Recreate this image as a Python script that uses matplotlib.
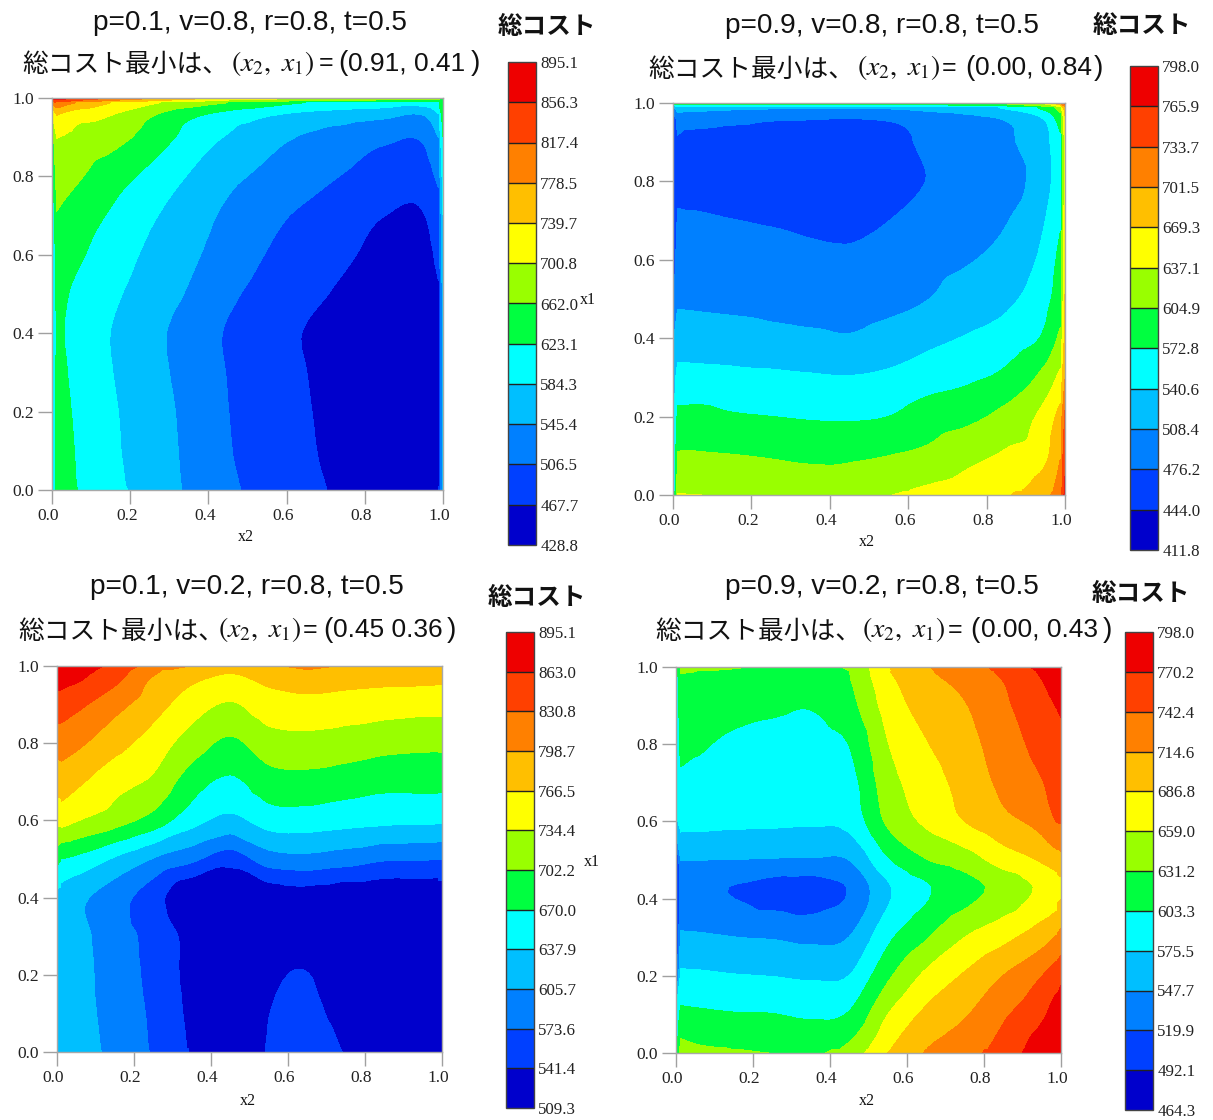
import numpy as np
import matplotlib
matplotlib.use("Agg")
import matplotlib.pyplot as plt
import matplotlib.tri as mtri
from matplotlib.colors import ListedColormap, BoundaryNorm
from matplotlib.transforms import ScaledTranslation

W, H = 1213, 1120

plt.rcParams['mathtext.fontset'] = 'stix'

band_colors = ['#0000cc', '#0040ff', '#0080ff', '#00bfff', '#00ffff', '#00ff40',
               '#99ff00', '#ffff00', '#ffbf00', '#ff8000', '#ff4000', '#ee0000']

# sample positions
x2_vals = [0, .012, .06, .15, .25, .35, .45, .55, .65, .75, .85, .95, .988, 1]
x1_vals = [0, .012, .1, .2, .3, .4, .5, .6, .7, .8, .9, .96, .988, 1]
x1_vals_d = [0, .012, .1, .2, .3, .43, .5, .6, .7, .8, .9, .96, .988, 1]

levels_a = [428.8, 467.7, 506.5, 545.4, 584.3, 623.1, 662.0, 700.8, 739.7, 778.5, 817.4, 856.3, 895.1]
levels_b = [411.8, 444.0, 476.2, 508.4, 540.6, 572.8, 604.9, 637.1, 669.3, 701.5, 733.7, 765.9, 798.0]
levels_c = [509.3, 541.4, 573.6, 605.7, 637.9, 670.0, 702.2, 734.4, 766.5, 798.7, 830.8, 863.0, 895.1]
levels_d = [464.3, 492.1, 519.9, 547.7, 575.5, 603.3, 631.2, 659.0, 686.8, 714.6, 742.4, 770.2, 798.0]

# total cost, rows go up in x1, columns go right in x2
cost_a = [
    [565, 647, 625, 596, 569, 540, 513, 493, 476, 460, 448, 443, 460, 565],
    [565, 646, 624, 595, 568, 540, 513, 493, 476, 460, 448, 443, 460, 565],
    [565, 643, 622, 592, 565, 538, 509, 491, 472, 458, 447, 442, 460, 565],
    [565, 639, 619, 590, 563, 536, 507, 489, 470, 457, 446, 441, 460, 565],
    [565, 635, 615, 586, 559, 532, 505, 485, 468, 455, 445, 441, 460, 565],
    [565, 631, 612, 584, 557, 530, 503, 483, 466, 454, 445, 441, 460, 565],
    [565, 635, 617, 592, 567, 542, 514, 493, 476, 462, 450, 445, 464, 565],
    [570, 647, 631, 604, 577, 553, 528, 505, 487, 472, 458, 452, 476, 570],
    [584, 660, 645, 619, 590, 564, 538, 517, 499, 483, 468, 466, 491, 584],
    [604, 680, 668, 641, 613, 582, 555, 537, 522, 504, 489, 487, 514, 604],
    [640, 702, 693, 678, 647, 611, 581, 560, 541, 530, 515, 513, 546, 623],
    [700, 745, 722, 705, 670, 636, 612, 592, 577, 568, 560, 550, 584, 643],
    [780, 817, 779, 740, 709, 685, 662, 643, 623, 615, 608, 604, 623, 662],
    [895, 880, 860, 820, 790, 760, 730, 720, 710, 705, 700, 700, 680, 662],
]

cost_b = [
    [530, 640, 638, 632, 625, 622, 628, 636, 648, 657, 666, 692, 720, 780],
    [530, 630, 630, 626, 621, 618, 623, 632, 642, 651, 662, 688, 715, 770],
    [530, 608, 608, 606, 603, 600, 600, 605, 612, 628, 642, 663, 700, 760],
    [530, 581, 582, 576, 573, 570, 569, 573, 588, 597, 615, 650, 680, 740],
    [525, 552, 551, 549, 547, 544, 542, 547, 559, 567, 581, 617, 645, 700],
    [505, 524, 523, 521, 517, 514, 511, 519, 532, 543, 555, 580, 612, 680],
    [470, 504, 503, 501, 499, 497, 496, 500, 508, 523, 534, 564, 590, 670],
    [455, 493, 492, 489, 487, 484, 482, 488, 498, 506, 520, 552, 582, 665],
    [440, 482, 481, 477, 474, 470, 468, 476, 489, 497, 507, 541, 570, 660],
    [432, 465, 462, 460, 459, 458, 458, 462, 477, 486, 499, 528, 565, 650],
    [432, 474, 470, 468, 465, 463, 463, 466, 482, 493, 504, 532, 568, 650],
    [450, 490, 488, 485, 480, 478, 476, 480, 487, 498, 512, 545, 590, 660],
    [500, 525, 520, 515, 512, 510, 510, 512, 520, 530, 545, 585, 620, 690],
    [590, 590, 590, 592, 595, 598, 600, 603, 606, 610, 620, 650, 700, 760],
]

cost_c = [
    [625, 630, 620, 597, 571, 539, 525, 543, 556, 540, 525, 518, 515, 515],
    [625, 629, 619, 596, 570, 538, 525, 543, 555, 539, 525, 518, 515, 515],
    [625, 628, 617, 593, 568, 535, 522, 541, 549, 530, 522, 516, 513, 513],
    [625, 627, 616, 590, 565, 532, 520, 537, 542, 525, 520, 514, 512, 512],
    [625, 627, 614, 588, 563, 531, 520, 530, 530, 522, 518, 513, 512, 512],
    [625, 625, 612, 588, 555, 510, 512, 520, 525, 515, 515, 515, 515, 515],
    [680, 670, 661, 634, 604, 581, 555, 590, 596, 588, 577, 576, 574, 574],
    [745, 746, 734, 716, 689, 650, 629, 652, 654, 649, 645, 644, 643, 643],
    [780, 782, 770, 745, 728, 685, 664, 688, 691, 685, 679, 679, 680, 680],
    [812, 813, 803, 778, 752, 719, 696, 720, 724, 720, 713, 710, 709, 709],
    [848, 848, 836, 810, 780, 750, 731, 753, 756, 752, 749, 746, 746, 746],
    [872, 872, 863, 836, 793, 770, 757, 772, 781, 776, 772, 771, 770, 770],
    [888, 885, 873, 848, 805, 784, 770, 785, 797, 790, 783, 782, 781, 781],
    [895, 893, 880, 855, 815, 798, 775, 795, 805, 797, 788, 786, 785, 785],
]

cost_d = [
    [590, 640, 636, 633, 631, 626, 640, 687, 717, 733, 754, 787, 796, 797],
    [590, 640, 634, 631, 627, 622, 637, 683, 714, 730, 752, 785, 795, 796],
    [585, 610, 608, 605, 604, 600, 606, 659, 693, 712, 738, 765, 783, 788],
    [500, 581, 580, 577, 575, 572, 576, 626, 665, 690, 715, 742, 757, 764],
    [475, 552, 551, 548, 546, 542, 548, 597, 629, 659, 679, 703, 717, 723],
    [466, 530, 526, 519, 510, 506, 522, 572, 600, 620, 641, 664, 672, 675],
    [475, 548, 548, 547, 546, 545, 548, 600, 630, 645, 671, 690, 702, 706],
    [570, 584, 583, 581, 580, 579, 584, 636, 664, 687, 707, 725, 743, 745],
    [580, 597, 596, 593, 590, 589, 593, 647, 674, 696, 721, 741, 753, 754],
    [580, 612, 606, 599, 596, 594, 604, 658, 685, 704, 729, 752, 762, 764],
    [580, 618, 615, 612, 608, 605, 622, 670, 698, 713, 737, 762, 771, 773],
    [580, 628, 626, 623, 620, 618, 629, 678, 706, 721, 742, 769, 780, 782],
    [585, 632, 631, 630, 628, 625, 631, 684, 711, 726, 748, 774, 787, 790],
    [590, 640, 636, 632, 630, 628, 632, 685, 713, 728, 751, 778, 790, 795],
]

title_top = ['p=0.1, v=0.8, r=0.8, t=0.5', 'p=0.9, v=0.8, r=0.8, t=0.5',
             'p=0.1, v=0.2, r=0.8, t=0.5', 'p=0.9, v=0.2, r=0.8, t=0.5']
title_min = ['0.91, 0.41', '0.00, 0.84', '0.45 0.36', '0.00, 0.43']
tick_vals = [0.0, 0.2, 0.4, 0.6, 0.8, 1.0]

# left, right, top, bottom in pixels
plot_box = [(52, 443, 98, 490), (673, 1065, 103, 495), (57, 442, 666, 1052), (676, 1061, 667, 1053)]
cbar_box = [(508, 536, 62, 545), (1130, 1158, 66, 550), (506, 534, 632, 1108), (1125, 1153, 632, 1110)]
title_pos = [(250, 23), (882, 26), (247, 587), (882, 587)]
line2_pos = [(22, 65), (648, 70), (18, 632), (655, 632)]
# offsets along the second title line: math, =, (, digits, )
line2_off = [(209, 297, 316, 326, 449), (209, 294, 317, 327, 446),
             (200, 285, 305, 315, 429), (207, 293, 315, 326, 448)]
soukost_pos = [(547, 27), (1142, 26), (537, 598), (1141, 594)]
x2_pos = [(246, 537), (867, 542), (248, 1101), (867, 1101)]
x1_pos = [(588, 300), None, (592, 862), None]

fig = plt.figure(figsize=(W / 100, H / 100), dpi=100)


def make_axes(box):
    l, r, t, b = box
    return fig.add_axes([l / W, 1 - b / H, (r - l) / W, (b - t) / H])


def put(xy, s, **kw):
    return fig.text(xy[0] / W, 1 - xy[1] / H, s, color='#111111', va='center', **kw)


serif = 'Liberation Serif'
sans = 'Liberation Sans'
cjk = 'Noto Sans CJK JP'

all_costs = [cost_a, cost_b, cost_c, cost_d]
all_levels = [levels_a, levels_b, levels_c, levels_d]
all_x1 = [x1_vals, x1_vals, x1_vals, x1_vals_d]

for i in range(4):
    ax = make_axes(plot_box[i])
    cmap = ListedColormap(band_colors)
    levels = all_levels[i]
    norm = BoundaryNorm(levels, cmap.N)
    z = np.array(all_costs[i], dtype=float)

    # full grid first, so the thin edge layers show
    cs = ax.contourf(x2_vals, all_x1[i], z, levels=levels, cmap=cmap, norm=norm)

    # inner part again through matplotlib's cubic refiner, so the bands come out smooth
    gx, gy = np.meshgrid(x2_vals[1:-1], all_x1[i][1:-1])
    tri = mtri.Triangulation(gx.ravel(), gy.ravel())
    interp = mtri.CubicTriInterpolator(tri, z[1:-1, 1:-1].ravel(), kind='geom')
    fine_tri, fine_z = mtri.UniformTriRefiner(tri).refine_field(z[1:-1, 1:-1].ravel(), triinterpolator=interp, subdiv=3)
    fine_z = np.clip(fine_z, levels[0] + 0.1, levels[-1] - 0.1)
    ax.tricontourf(fine_tri, fine_z, levels=levels, cmap=cmap, norm=norm)

    ax.set_xlim(0, 1)
    ax.set_ylim(0, 1)
    ax.set_xticks(tick_vals)
    ax.set_yticks(tick_vals)
    ax.set_xticklabels(['%.1f' % v for v in tick_vals], family=serif, fontsize=12.5, color='#222222')
    ax.set_yticklabels(['%.1f' % v for v in tick_vals], family=serif, fontsize=12.5, color='#222222')
    ax.tick_params(length=10, width=1, color='#a0a0a0', pad=3)
    shift = ScaledTranslation(-3.5 / 100, 0, fig.dpi_scale_trans)
    for lab in ax.get_xticklabels():
        lab.set_transform(lab.get_transform() + shift)
    for s in ax.spines.values():
        s.set_color('#a8a8a8')
        s.set_linewidth(1)

    cax = make_axes(cbar_box[i])
    cb = fig.colorbar(cs, cax=cax, ticks=levels, drawedges=True)
    cb.ax.set_yticklabels(['%.1f' % v for v in levels], family=serif, fontsize=12.2, color='#222222')
    cb.ax.tick_params(length=0, pad=3)
    cb.outline.set_edgecolor('#444444')
    cb.outline.set_linewidth(1)
    cb.dividers.set_color('#222222')
    cb.dividers.set_linewidth(1)

    put(title_pos[i], title_top[i], family=sans, fontsize=20.2, ha='center')
    lx, ly = line2_pos[i]
    off = line2_off[i]
    put((lx, ly), '総コスト最小は、', family=cjk, fontsize=18.5, ha='left')
    put((lx + off[0], ly - 2), r'$(x_2,\ x_1)$', fontsize=20, ha='left')
    put((lx + off[1], ly - 2), '=', family=sans, fontsize=18, ha='left')
    put((lx + off[2], ly - 2), '(', family=sans, fontsize=20, ha='left')
    put((lx + off[3], ly - 2), title_min[i], family=sans, fontsize=19, ha='left')
    put((lx + off[4], ly - 2), ')', family=sans, fontsize=20, ha='left')
    put(soukost_pos[i], '総コスト', family=cjk, weight='bold', fontsize=17.7, ha='center')
    put(x2_pos[i], 'x2', family=serif, fontsize=11.5, ha='center')
    if x1_pos[i]:
        put(x1_pos[i], 'x1', family=serif, fontsize=11.5, ha='center')

fig.savefig('out.png', dpi=100)
